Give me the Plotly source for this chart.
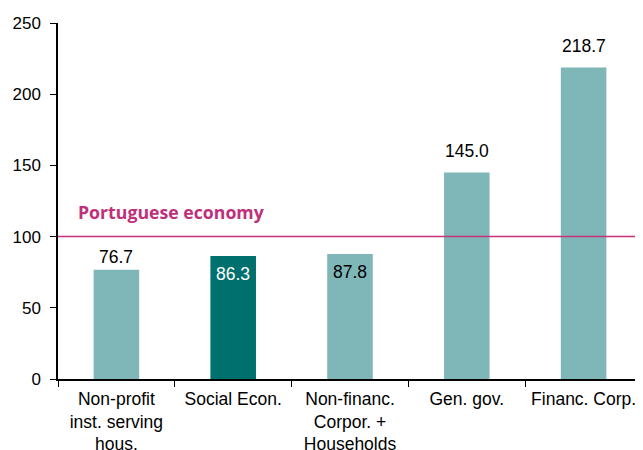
import plotly.graph_objects as go

categories = ["Non-profit<br>inst. serving<br>hous.", "Social Econ.",
              "Non-financ.<br>Corpor. +<br>Households", "Gen. gov.", "Financ. Corp."]
values = [76.7, 86.3, 87.8, 145.0, 218.7]
bar_colors = ["#7fb7b8", "#00706e", "#7fb7b8", "#7fb7b8", "#7fb7b8"]
label_inside = [False, True, True, False, False]
label_colors = ["#000000", "#ffffff", "#000000", "#000000", "#000000"]
label_shift = [1, -6, -6, 10, 10]
reference_value = 100
reference_label = "Portuguese economy"
y_ticks = [0, 50, 100, 150, 200, 250]

FONT = "Liberation Sans, Arial"

fig = go.Figure()
fig.add_trace(go.Bar(
    x=categories, y=values,
    marker=dict(color=bar_colors, line=dict(width=0)),
    width=0.39,
    hoverinfo="x+y",
))

for cat, v, inside, col, sh in zip(categories, values, label_inside, label_colors, label_shift):
    fig.add_annotation(x=cat, y=v, xref="x", yref="y", text=f"{v:.1f}",
                       showarrow=False, yanchor="top" if inside else "bottom",
                       yshift=sh, font=dict(family=FONT, size=17.5, color=col))

fig.add_shape(type="line", xref="paper", yref="y", x0=0, x1=1,
              y0=reference_value, y1=reference_value,
              line=dict(color="#c8327a", width=1.5))
fig.add_annotation(xref="paper", yref="y", x=0.030, y=117,
                   text="<b>" + reference_label + "</b>", showarrow=False,
                   xanchor="left", yanchor="middle",
                   font=dict(family="Open Sans", size=17.7, color="#c0307a"))

# page body has an 8px margin: size the figure to fit the window exactly
fig.update_layout(
    width=635, height=442,
    margin=dict(l=50, r=1, t=15, b=71),
    plot_bgcolor="white", paper_bgcolor="white",
    showlegend=False,
    font=dict(family=FONT, size=17, color="#000000"),
    xaxis=dict(range=[-0.5, 4.5], showgrid=False, showline=True, linecolor="#000000",
               linewidth=1.5, ticks="outside", tickson="boundaries", ticklen=6,
               tickcolor="#000000", tickangle=0, automargin=False, ticklabelstandoff=3,
               tickfont=dict(family=FONT, size=17.5, color="#000000")),
    yaxis=dict(range=[0, 250], tickvals=y_ticks, showgrid=False, zeroline=False,
               showline=True, linecolor="#000000", linewidth=1.5, ticks="outside",
               ticklen=6, tickcolor="#000000", automargin=False, ticklabelstandoff=6,
               tickfont=dict(family=FONT, size=17, color="#000000")),
)

fig.write_html("out.html")
